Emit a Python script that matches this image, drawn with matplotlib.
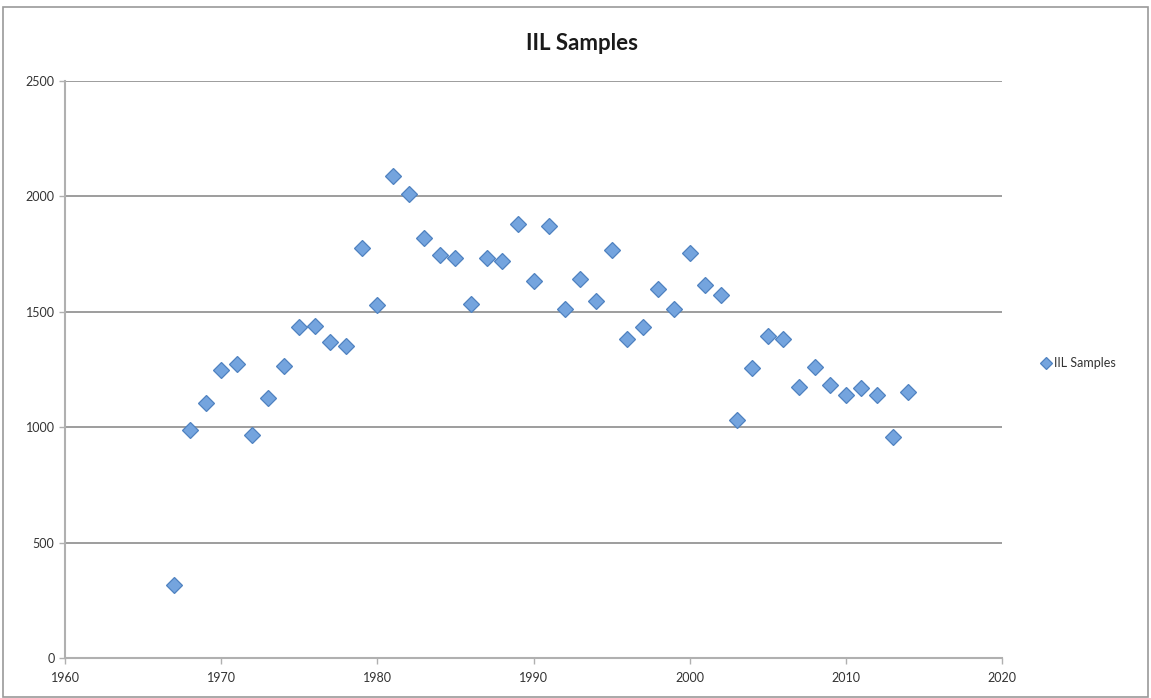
import matplotlib
matplotlib.use('Agg')
import matplotlib.pyplot as plt
from matplotlib.patches import Rectangle

# IIL sample counts per year
years = [1967, 1968, 1969, 1970, 1971, 1972, 1973, 1974, 1975, 1976,
         1977, 1978, 1979, 1980, 1981, 1982, 1983, 1984, 1985, 1986,
         1987, 1988, 1989, 1990, 1991, 1992, 1993, 1994, 1995, 1996,
         1997, 1998, 1999, 2000, 2001, 2002, 2003, 2004, 2005, 2006,
         2007, 2008, 2009, 2010, 2011, 2012, 2013, 2014]
samples = [316, 986, 1104, 1246, 1275, 968, 1126, 1266, 1432, 1439,
           1367, 1353, 1776, 1530, 2087, 2010, 1818, 1747, 1733, 1535,
           1733, 1718, 1882, 1634, 1873, 1514, 1643, 1548, 1769, 1380,
           1435, 1600, 1514, 1754, 1615, 1571, 1032, 1258, 1393, 1380,
           1175, 1259, 1181, 1140, 1169, 1140, 957, 1153]

x_ticks = [1960, 1970, 1980, 1990, 2000, 2010, 2020]
y_ticks = [0, 500, 1000, 1500, 2000, 2500]
series_name = 'IIL Samples'

plt.rcParams['font.family'] = ['Lato', 'DejaVu Sans']

fig = plt.figure(figsize=(11.51, 6.98), dpi=100)
ax = fig.add_axes([65 / 1151, 40 / 698, 937 / 1151, 577 / 698])

ax.plot(years, samples, linestyle='none', marker='D', ms=8.2,
        markerfacecolor='#74a4de', markeredgecolor='#4f82c0',
        markeredgewidth=0.9, label=series_name, zorder=3)

ax.set_xlim(x_ticks[0], x_ticks[-1])
ax.set_ylim(y_ticks[0], y_ticks[-1])
ax.set_xticks(x_ticks)
ax.set_yticks(y_ticks)

ax.grid(axis='y', color='#8c8c8c', linewidth=1.2)
ax.set_axisbelow(True)

for side in ['top', 'right']:
    ax.spines[side].set_visible(False)
for side in ['left', 'bottom']:
    ax.spines[side].set_color('#b0b0b0')
    ax.spines[side].set_linewidth(1.5)

ax.tick_params(axis='both', colors='#b0b0b0', labelcolor='#333333',
               labelsize=9, length=4, width=1)
ax.tick_params(axis='x', pad=6)

fig.text(582 / 1151, 1 - 44 / 698, 'IIL Samples', ha='center', va='center',
         fontsize=16, fontweight='bold', color='#1a1a1a')

fig.legend(loc='center left', bbox_to_anchor=(1030 / 1151, 1 - 363 / 698),
           frameon=False, fontsize=9, handlelength=0.7, handletextpad=0.3,
           markerscale=0.75, labelcolor='#333333')

# outer chart border
fig.patches.append(Rectangle((3 / 1151, 1 / 698), 1145 / 1151, 690 / 698,
                             transform=fig.transFigure, fill=False,
                             edgecolor='#9a9a9a', linewidth=1.2))

fig.savefig('out.png', dpi=100)
